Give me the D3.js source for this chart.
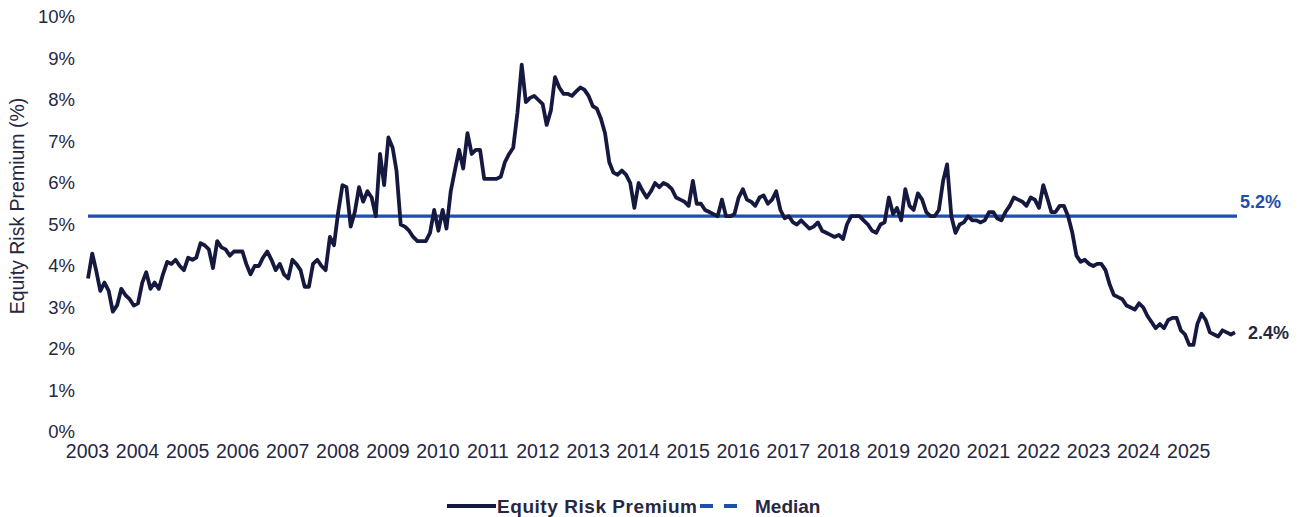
<html>
<head>
  <script src="https://d3js.org/d3.v7.min.js"></script>
  <style>
    body { margin: 0; background: #fff; }
    text { font-family: "Liberation Sans", Arial, sans-serif; }
  </style>
</head>
<body>
  <svg id="chart" width="1305" height="517"></svg>
  <script>
    // monthly ERP readings, Jan 2003 .. Dec 2025
    var startYear = 2003;
    var erpValues = [
      3.7, 4.3, 3.9, 3.4, 3.6, 3.4, 2.9, 3.05, 3.45, 3.3, 3.2, 3.05,      // 2003
      3.1, 3.6, 3.85, 3.45, 3.6, 3.45, 3.8, 4.1, 4.05, 4.15, 4.0, 3.9,    // 2004
      4.2, 4.15, 4.2, 4.55, 4.5, 4.4, 3.95, 4.6, 4.45, 4.4, 4.25, 4.35,   // 2005
      4.35, 4.35, 4.05, 3.8, 4.0, 4.0, 4.2, 4.35, 4.15, 3.9, 4.05, 3.8,   // 2006
      3.7, 4.15, 4.05, 3.9, 3.5, 3.5, 4.05, 4.15, 4.0, 3.9, 4.7, 4.5,     // 2007
      5.3, 5.95, 5.9, 4.95, 5.3, 5.9, 5.55, 5.8, 5.65, 5.2, 6.7, 5.95,    // 2008
      7.1, 6.85, 6.3, 5.0, 4.95, 4.85, 4.7, 4.6, 4.6, 4.6, 4.8, 5.35,     // 2009
      4.85, 5.35, 4.9, 5.8, 6.3, 6.8, 6.35, 7.2, 6.7, 6.8, 6.8, 6.1,      // 2010
      6.1, 6.1, 6.1, 6.15, 6.5, 6.7, 6.85, 7.7, 8.85, 7.95, 8.05, 8.1,    // 2011
      8.0, 7.9, 7.4, 7.75, 8.55, 8.3, 8.15, 8.15, 8.1, 8.2, 8.3, 8.25,    // 2012
      8.1, 7.85, 7.8, 7.55, 7.2, 6.5, 6.25, 6.2, 6.3, 6.2, 6.0, 5.4,      // 2013
      6.0, 5.8, 5.65, 5.8, 6.0, 5.9, 6.0, 5.95, 5.85, 5.65, 5.6, 5.55,    // 2014
      5.45, 6.05, 5.5, 5.5, 5.35, 5.3, 5.25, 5.2, 5.6, 5.2, 5.2, 5.25,    // 2015
      5.65, 5.85, 5.6, 5.55, 5.45, 5.65, 5.7, 5.5, 5.6, 5.8, 5.35, 5.15,  // 2016
      5.2, 5.05, 5.0, 5.1, 5.0, 4.9, 4.95, 5.05, 4.85, 4.8, 4.75, 4.7,    // 2017
      4.75, 4.65, 5.0, 5.2, 5.2, 5.2, 5.1, 5.0, 4.85, 4.8, 5.0, 5.05,     // 2018
      5.65, 5.25, 5.4, 5.1, 5.85, 5.45, 5.35, 5.75, 5.6, 5.3, 5.2, 5.2,   // 2019
      5.35, 6.05, 6.45, 5.2, 4.8, 5.0, 5.05, 5.2, 5.1, 5.1, 5.05, 5.1,    // 2020
      5.3, 5.3, 5.15, 5.1, 5.3, 5.45, 5.65, 5.6, 5.55, 5.45, 5.65, 5.6,   // 2021
      5.4, 5.95, 5.65, 5.3, 5.3, 5.45, 5.45, 5.2, 4.8, 4.25, 4.1, 4.15,   // 2022
      4.05, 4.0, 4.05, 4.05, 3.9, 3.55, 3.3, 3.25, 3.2, 3.05, 3.0, 2.95,  // 2023
      3.1, 3.0, 2.8, 2.65, 2.5, 2.6, 2.5, 2.7, 2.75, 2.75, 2.45, 2.35,    // 2024
      2.1, 2.1, 2.6, 2.85, 2.7, 2.4, 2.35, 2.3, 2.45, 2.4, 2.35, 2.4      // 2025
    ];
    var medianValue = 5.2;
    var yTicks = [0, 1, 2, 3, 4, 5, 6, 7, 8, 9, 10];
    var yearLabels = d3.range(2003, 2026);
    var legendItems = ["Equity Risk Premium", "Median"];

    var lineColor = "#16193f", medianColor = "#1f4db0", textColor = "#262743";

    var data = erpValues.map(function(v, i) {
      return { date: new Date(startYear, i, 1), value: v };
    });

    var svg = d3.select("#chart");

    var x = d3.scaleTime()
        .domain([data[0].date, data[data.length - 1].date])
        .range([88, 1235]);
    var y = d3.scaleLinear().domain([0, 10]).range([432, 17]);

    // y axis (labels only)
    var yAxis = svg.append("g")
        .attr("transform", "translate(75,0)")
        .call(d3.axisLeft(y).tickValues(yTicks).tickSize(0).tickPadding(0)
          .tickFormat(function(d) { return d + "%"; }));
    yAxis.select(".domain").remove();
    yAxis.selectAll("text")
        .attr("fill", textColor)
        .style("font-size", "18.5px");

    // x axis (labels only)
    var xAxis = svg.append("g")
        .attr("transform", "translate(-1,444)")
        .call(d3.axisBottom(x)
          .tickValues(yearLabels.map(function(yr) { return new Date(yr, 0, 1); }))
          .tickSize(0).tickPadding(0)
          .tickFormat(d3.timeFormat("%Y")));
    xAxis.select(".domain").remove();
    xAxis.selectAll("text")
        .attr("fill", textColor)
        .style("font-size", "19.5px");

    // y axis title
    svg.append("text")
        .attr("transform", "translate(24,206) rotate(-90)")
        .attr("text-anchor", "middle")
        .attr("fill", textColor)
        .style("font-size", "19.5px")
        .text("Equity Risk Premium (%)");

    // median line
    svg.append("line")
        .attr("x1", x.range()[0]).attr("x2", x.range()[1] + 2)
        .attr("y1", y(medianValue)).attr("y2", y(medianValue))
        .attr("stroke", medianColor)
        .attr("stroke-width", 3.2);

    // ERP line
    var line = d3.line()
        .x(function(d) { return x(d.date); })
        .y(function(d) { return y(d.value); });

    svg.append("path")
        .datum(data)
        .attr("d", line)
        .attr("fill", "none")
        .attr("stroke", lineColor)
        .attr("stroke-width", 3.8)
        .attr("stroke-linejoin", "round");

    // end labels
    svg.append("text")
        .attr("x", 1240).attr("y", y(medianValue) - 8)
        .attr("fill", medianColor)
        .style("font-size", "18px").style("font-weight", "bold")
        .text(medianValue.toFixed(1) + "%");
    var last = data[data.length - 1];
    svg.append("text")
        .attr("x", 1248).attr("y", y(last.value) + 7)
        .attr("fill", textColor)
        .style("font-size", "18px").style("font-weight", "bold")
        .text(last.value.toFixed(1) + "%");

    // legend
    var lg = svg.append("g").attr("transform", "translate(0,506)");
    lg.append("line")
        .attr("x1", 447).attr("x2", 496).attr("y1", 0).attr("y2", 0)
        .attr("stroke", lineColor).attr("stroke-width", 3.8);
    lg.append("text")
        .attr("x", 497).attr("y", 7)
        .attr("fill", textColor)
        .style("font-size", "19px").style("font-weight", "bold")
        .attr("textLength", 200)
        .text(legendItems[0]);
    lg.append("line")
        .attr("x1", 700).attr("x2", 738).attr("y1", 0).attr("y2", 0)
        .attr("stroke", medianColor).attr("stroke-width", 3.8)
        .attr("stroke-dasharray", "13,11");
    lg.append("text")
        .attr("x", 755).attr("y", 7)
        .attr("fill", textColor)
        .style("font-size", "19px").style("font-weight", "bold")
        .text(legendItems[1]);
  </script>
</body>
</html>
